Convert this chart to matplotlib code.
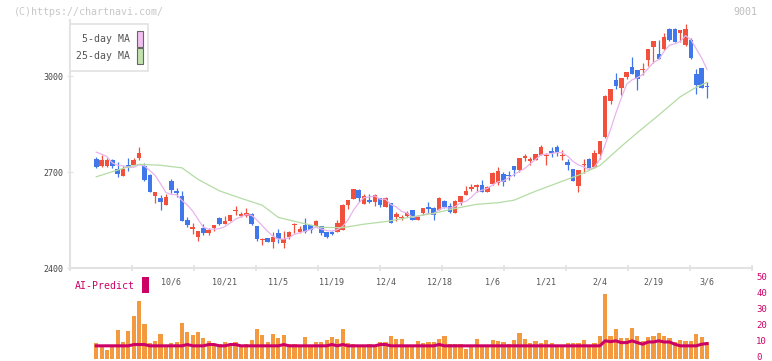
import numpy as np
import pandas as pd
import matplotlib
matplotlib.use('Agg')
from matplotlib import pyplot as plt
from matplotlib.patches import Rectangle
from matplotlib.transforms import blended_transform_factory, ScaledTranslation

# daily candles, index 0..115
opens = [2733, 2741, 2719, 2719, 2737, 2709, 2687, 2723, 2722, 2744,
         2719, 2692, 2626, 2619, 2598, 2672, 2641, 2625, 2550, 2522,
         2498, 2525, 2509, 2525, 2556, 2537, 2547, 2577, 2562, 2562,
         2569, 2531, 2487, 2494, 2481, 2509, 2478, 2497, 2534, 2512,
         2534, 2534, 2531, 2531, 2512, 2512, 2512, 2519, 2597, 2616,
         2644, 2600, 2612, 2606, 2619, 2591, 2603, 2559, 2556, 2562,
         2581, 2550, 2572, 2591, 2587, 2581, 2609, 2594, 2572, 2606,
         2628, 2647, 2653, 2659, 2637, 2662, 2666, 2694, 2691, 2719,
         2706, 2744, 2734, 2737, 2753, 2750, 2766, 2778, 2750, 2731,
         2709, 2656, 2722, 2741, 2715, 2756, 2808, 2923, 2987, 2963,
         2997, 3028, 3019, 3018, 3049, 3092, 3070, 3085, 3146, 3146,
         3133, 3097, 3112, 3006, 3026, 2969]
highs = [2733, 2746, 2753, 2744, 2742, 2730, 2719, 2744, 2744, 2778,
         2727, 2695, 2638, 2628, 2631, 2679, 2650, 2641, 2559, 2541,
         2516, 2537, 2525, 2534, 2559, 2562, 2566, 2594, 2575, 2587,
         2572, 2531, 2494, 2494, 2512, 2522, 2516, 2516, 2540, 2530,
         2556, 2534, 2550, 2531, 2512, 2516, 2550, 2600, 2612, 2647,
         2647, 2631, 2631, 2631, 2619, 2622, 2603, 2575, 2566, 2578,
         2581, 2562, 2587, 2606, 2591, 2622, 2612, 2603, 2612, 2625,
         2656, 2662, 2662, 2675, 2656, 2700, 2716, 2700, 2703, 2719,
         2744, 2756, 2747, 2756, 2784, 2759, 2778, 2784, 2769, 2741,
         2709, 2706, 2741, 2744, 2769, 2798, 2941, 2958, 3010, 2993,
         3012, 3059, 3019, 3040, 3084, 3108, 3112, 3133, 3150, 3150,
         3144, 3162, 3119, 3021, 3026, 2981]
lows = [2733, 2713, 2715, 2715, 2713, 2685, 2687, 2704, 2722, 2737,
        2673, 2637, 2604, 2582, 2598, 2635, 2623, 2548, 2529, 2507,
        2485, 2503, 2503, 2516, 2534, 2537, 2547, 2566, 2559, 2559,
        2534, 2484, 2472, 2481, 2462, 2478, 2462, 2491, 2510, 2509,
        2509, 2509, 2528, 2503, 2494, 2503, 2512, 2519, 2584, 2616,
        2606, 2600, 2603, 2594, 2591, 2591, 2541, 2547, 2550, 2559,
        2550, 2550, 2566, 2572, 2550, 2581, 2587, 2572, 2572, 2597,
        2628, 2641, 2637, 2637, 2637, 2659, 2659, 2656, 2675, 2687,
        2700, 2734, 2722, 2737, 2753, 2722, 2747, 2750, 2737, 2706,
        2672, 2637, 2697, 2712, 2712, 2740, 2806, 2912, 2960, 2941,
        2991, 3005, 2956, 3002, 3032, 3040, 3053, 3081, 3110, 3106,
        3106, 3094, 3054, 2943, 2961, 2932]
closes = [2733, 2717, 2737, 2737, 2719, 2695, 2709, 2713, 2737, 2759,
          2676, 2637, 2638, 2607, 2622, 2645, 2634, 2548, 2535, 2528,
          2516, 2509, 2519, 2534, 2537, 2547, 2566, 2580, 2569, 2572,
          2537, 2491, 2491, 2481, 2497, 2491, 2491, 2512, 2537, 2522,
          2512, 2519, 2547, 2509, 2497, 2506, 2541, 2597, 2612, 2647,
          2619, 2625, 2606, 2628, 2597, 2619, 2541, 2569, 2559, 2572,
          2550, 2559, 2587, 2584, 2566, 2619, 2591, 2575, 2609, 2625,
          2641, 2653, 2659, 2637, 2653, 2697, 2703, 2669, 2688, 2706,
          2744, 2750, 2741, 2756, 2778, 2753, 2759, 2759, 2753, 2722,
          2672, 2706, 2725, 2712, 2760, 2798, 2937, 2958, 2970, 2993,
          3012, 3007, 2992, 3020, 3084, 3108, 3053, 3122, 3114, 3106,
          3144, 3146, 3057, 2971, 2963, 2966]

# 5-day MA for the first days (older closes are not on the chart)
ma5_head = [np.nan, 2762, 2756, 2748]
# 25-day MA
ma25_idx = [1, 4, 7, 9, 13, 17, 20, 24, 28, 32, 35, 39, 43, 47, 51, 55, 60,
            64, 68, 72, 76, 79, 83, 87, 91, 95, 99, 102, 106, 110, 113, 115]
ma25_val = [2685, 2701, 2716, 2724, 2721, 2713, 2677, 2641, 2618, 2596, 2558,
            2542, 2527, 2526, 2537, 2545, 2560, 2571, 2586, 2599, 2604, 2612,
            2640, 2665, 2690, 2720, 2780, 2823, 2878, 2935, 2965, 2980]

# volume (x10k shares) for days 1..115
volume = [9.9, 7.2, 5.6, 7.2, 18.0, 10.5, 17.4, 26.7, 36.0, 21.7,
          9.9, 11.2, 15.5, 7.2, 9.9, 10.5, 22.3, 16.7, 14.9, 16.7,
          13.0, 11.2, 9.3, 9.3, 10.5, 9.3, 10.5, 7.2, 9.3, 11.8,
          18.6, 14.9, 10.5, 15.5, 13.0, 14.9, 9.3, 9.3, 7.2, 13.6,
          7.2, 10.5, 10.5, 11.8, 13.6, 12.4, 18.6, 9.9, 9.3, 7.2,
          7.2, 9.3, 7.2, 10.5, 10.5, 14.3, 12.4, 12.4, 7.2, 7.2,
          11.2, 9.9, 10.5, 10.5, 12.4, 14.3, 9.3, 9.3, 9.3, 6.2,
          7.2, 12.4, 7.2, 7.2, 11.8, 11.2, 10.5, 9.3, 11.8, 16.1,
          12.4, 9.9, 11.2, 9.9, 11.8, 9.9, 7.2, 7.2, 9.9, 9.9,
          9.9, 11.8, 7.2, 9.9, 14.3, 40.3, 14.3, 18.6, 13.0, 13.0,
          19.2, 14.3, 11.2, 13.6, 14.3, 16.1, 14.3, 13.0, 10.5, 11.8,
          11.2, 11.2, 15.5, 13.6, 10.5]
ai_predict = [7.9, 7.9, 7.9, 7.9, 7.9, 7.9, 7.9, 8.7, 8.7, 8.7,
              7.9, 7.9, 7.9, 7.9, 7.9, 7.9, 7.9, 8.7, 7.9, 7.9,
              7.9, 8.7, 8.7, 7.9, 7.9, 8.7, 8.7, 7.9, 7.9, 7.9,
              7.9, 7.9, 7.9, 7.9, 7.9, 8.7, 7.9, 7.9, 7.9, 7.9,
              7.9, 7.9, 7.9, 7.9, 8.7, 7.9, 8.7, 7.9, 7.9, 7.9,
              7.9, 7.9, 7.9, 8.7, 8.7, 7.9, 7.9, 7.9, 7.9, 7.9,
              7.9, 7.9, 7.9, 7.9, 8.7, 7.9, 7.9, 7.9, 7.9, 7.9,
              7.9, 7.9, 7.9, 7.9, 7.9, 7.9, 7.9, 7.9, 7.9, 7.9,
              7.9, 7.9, 7.9, 7.9, 7.9, 7.9, 7.9, 7.9, 7.9, 7.9,
              7.9, 7.9, 7.9, 7.9, 7.9, 11.0, 10.5, 11.0, 9.9, 9.9,
              11.0, 9.9, 8.9, 10.3, 10.3, 11.0, 10.3, 10.3, 8.9, 7.9,
              7.9, 7.9, 7.9, 8.9, 9.3]

date_idx = [15, 25, 35, 45, 55, 65, 75, 85, 95, 105, 115]
date_labels = ['10/6', '10/21', '11/5', '11/19', '12/4', '12/18',
               '1/6', '1/21', '2/4', '2/19', '3/6']

UP = '#f0503c'
DOWN = '#4078ec'
GRID = '#e2e2e2'
MONO = 'DejaVu Sans Mono'
W, H = 772, 361


def fx(px):
    return px / W


def fy(py):
    return 1 - py / H


fig = plt.figure(figsize=(W / 100, H / 100), dpi=100)
ax = fig.add_axes([fx(70), fy(268), fx(752) - fx(70), fy(20) - fy(268)])
axv = fig.add_axes([fx(70), fy(358.5), fx(752) - fx(70), fy(278.3) - fy(358.5)])

n = len(closes)
x = np.arange(n)
xlim = (-3.9, 123.4)

o = np.array(opens, float)
c = np.array(closes, float)
colors = [UP if cc >= oo else DOWN for oo, cc in zip(o, c)]
ax.vlines(x, lows, highs, colors=colors, linewidth=0.9, zorder=2)
body_lo = np.minimum(o, c)
body_h = np.maximum(np.abs(c - o), 2.5)
ax.bar(x, body_h, bottom=body_lo, width=0.85, color=colors, linewidth=0, zorder=3)

ma5 = pd.Series(closes, dtype=float).rolling(5).mean().to_numpy()
ma5[:len(ma5_head)] = ma5_head
ax.plot(x, ma5, color='#e8b4ec', linewidth=0.9, zorder=4)
ax.plot(ma25_idx, ma25_val, color='#b4dca4', linewidth=0.9, zorder=4)

ax.set_xlim(*xlim)
ax.set_ylim(2400, 2400 + 248 * 3.125)
ax.set_yticks([2400, 2700, 3000])
ax.set_xticks(np.linspace(xlim[0], xlim[1], 12))
ax.set_xticklabels([])
for side in ('top', 'right'):
    ax.spines[side].set_visible(False)
for side in ('left', 'bottom'):
    ax.spines[side].set_color(GRID)
    ax.spines[side].set_linewidth(1.5)
ax.tick_params(axis='y', direction='inout', length=5, width=0.8, color=GRID,
               labelsize=6, labelcolor='#444444', pad=2)
ax.tick_params(axis='x', direction='inout', length=5, width=1.2, color=GRID)
for lab in ax.get_yticklabels():
    lab.set_family(MONO)

# volume panel
vx = x[1:]
axv.bar(vx, volume, width=0.78, color='#f39a40', linewidth=0, zorder=2)
axv.plot(vx, ai_predict, color='#cc0066', linewidth=2.2, zorder=3)
axv.set_xlim(*xlim)
axv.set_ylim(0, 50)
axv.set_yticks([0, 10, 20, 30, 40, 50])
axv.set_xticks([])
axv.yaxis.tick_right()
axv.tick_params(axis='y', length=0, pad=3, labelsize=6.5, labelcolor='#cc0066')
lift = ScaledTranslation(0, 2 / 100, fig.dpi_scale_trans)
for lab in axv.get_yticklabels():
    lab.set_family(MONO)
    lab.set_transform(lab.get_transform() + lift)
for s in axv.spines.values():
    s.set_visible(False)
axv.patch.set_alpha(0)

# date labels under the price panel
tr = blended_transform_factory(ax.transData, fig.transFigure)
for i, lab in zip(date_idx, date_labels):
    ax.text(i, fy(282), lab, transform=tr, ha='center', va='center',
            fontsize=6, family=MONO, color='#555555', clip_on=False)

# header texts
fig.text(fx(14), fy(12), '(C)https://chartnavi.com/', fontsize=7.2, family=MONO,
         color='#c8c8c8', ha='left', va='center')
fig.text(fx(757), fy(12), '9001', fontsize=7.2, family=MONO,
         color='#bdbdbd', ha='right', va='center')

# MA legend box
fig.patches.append(Rectangle((fx(70), fy(71)), fx(148) - fx(70), fy(24) - fy(71),
                             transform=fig.transFigure, facecolor='white',
                             edgecolor=GRID, linewidth=1.2, zorder=5))
for ytxt, label, col in [(39, '5-day MA', '#f0c0f0'), (56, '25-day MA', '#c0e2b0')]:
    fig.text(fx(130), fy(ytxt), label, fontsize=7.1, family=MONO, color='#555555',
             ha='right', va='center', zorder=6)
    fig.patches.append(Rectangle((fx(137), fy(ytxt + 7.5)), fx(142.5) - fx(137), fy(0) - fy(15),
                                 transform=fig.transFigure, facecolor=col,
                                 edgecolor='#666666', linewidth=0.8, zorder=6))

# AI-Predict legend
fig.text(fx(135), fy(286), 'AI-Predict', fontsize=7.1, family=MONO, color='#cc0066',
         ha='right', va='center')
fig.patches.append(Rectangle((fx(142), fy(293)), fx(148.5) - fx(142), fy(277) - fy(293),
                             transform=fig.transFigure, facecolor='#cc0066',
                             edgecolor='none'))

fig.savefig('out.png', dpi=100)
